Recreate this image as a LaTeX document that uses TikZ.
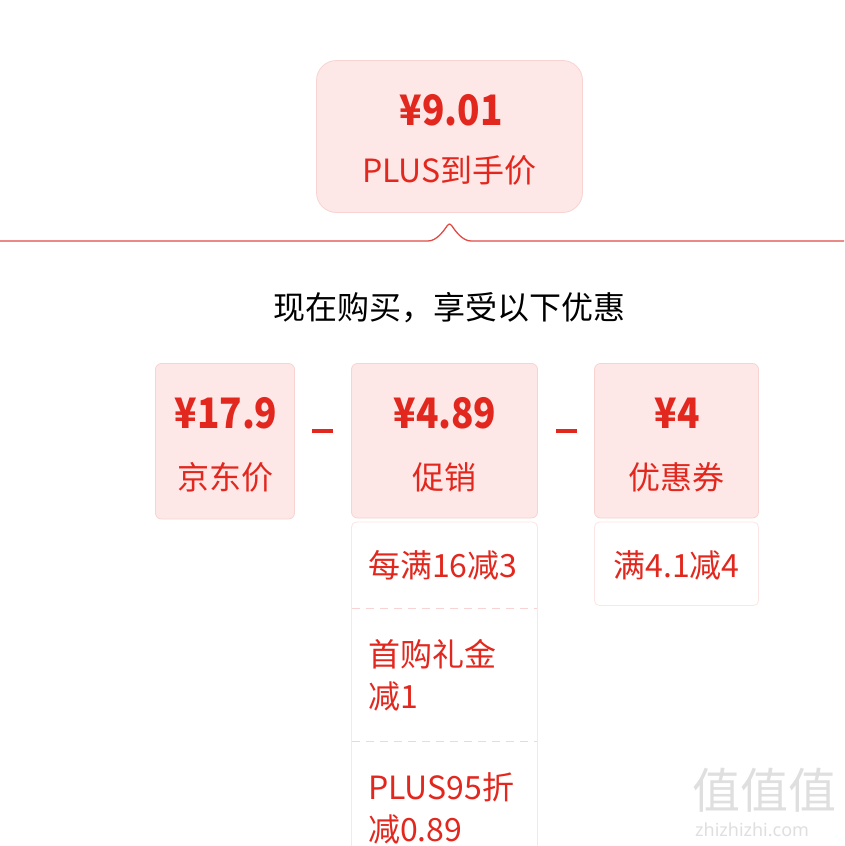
\documentclass[tikz,border=0pt]{standalone}
\usepackage{fontspec}
\setmainfont{Noto Sans CJK SC}
\newfontfamily\pricefont[FakeStretch=0.88]{Noto Sans CJK SC}
\newfontfamily\wmfont{Noto Sans}
\definecolor{jdred}{HTML}{E2281E}
\definecolor{pinkfill}{HTML}{FDE8E7}
\definecolor{pinkline}{HTML}{F7D3D1}
\definecolor{faintline}{HTML}{FBE6E5}
\definecolor{linered}{HTML}{E04B44}
\tikzset{
  price/.style={text=jdred, font=\pricefont\fontsize{42}{42}\selectfont\bfseries, inner sep=0pt, anchor=base},
  label/.style={text=jdred, font=\fontsize{32}{32}\selectfont, inner sep=0pt, anchor=base},
  pinkbox/.style={fill=pinkfill, draw=pinkline, line width=0.8pt, rounded corners=6pt},
  whitebox/.style={fill=white, draw=faintline, line width=0.8pt, rounded corners=5pt},
  sep/.style={draw=pinkline, line width=0.8pt, dash pattern=on 8pt off 6pt},
  minus/.style={fill=jdred, minimum width=21pt, minimum height=3.2pt, inner sep=0pt, draw=none},
  wm/.style={text=gray!25, inner sep=0pt, anchor=base}
}
\begin{document}
\begin{tikzpicture}[x=1pt,y=-1pt]
\useasboundingbox (0,0) rectangle (844,846);
\fill[white] (0,0) rectangle (844,846);
% top box
\draw[fill=pinkfill, draw=pinkline, line width=0.8pt, rounded corners=20pt] (316.5,60.5) rectangle (582.5,212.5);
\node[price] (top) at (451,125) {¥9.01};
\node[label] (topl) at (449.5,182) {PLUS到手价};
% divider with notch
\draw[linered, line width=1.3pt] (0,241) -- (428,241) .. controls (436,241) and (443,232) .. (447,226) .. controls (449,223.5) and (450,223.5) .. (452,226) .. controls (456,232) and (463,241) .. (471,241) -- (844,241);
\node[text=black, font=\fontsize{32}{32}\selectfont, inner sep=0pt, anchor=base] (head) at (449,319) {现在购买，享受以下优惠};
% box 1
\draw[pinkbox] (155.5,363.5) rectangle (294.5,519);
\node[price] (p1) at (226,428) {¥17.9};
\node[label] (l1) at (225,489) {京东价};
\node[minus] (m1) at (322.5,431) {};
% box 2
\draw[whitebox] (351.5,522) rectangle (537.5,870);
\draw[pinkbox] (351.5,363.5) rectangle (537.5,518);
\node[price] (p2) at (445,428) {¥4.89};
\node[label] (l2) at (444.5,489) {促销};
\node[label, anchor=base west] (r1) at (368,577) {每满16减3};
\draw[sep] (352,608) -- (537,608);
\node[label, anchor=base west] (r2a) at (368,666) {首购礼金};
\node[label, anchor=base west] (r2b) at (368,708) {减1};
\draw[sep] (352,741) -- (537,741);
\node[label, anchor=base west] (r3a) at (368,799) {PLUS95折};
\node[label, anchor=base west] (r3b) at (368,841) {减0.89};
\node[minus] (m2) at (566,431) {};
% box 3
\draw[whitebox] (594.5,522) rectangle (758.5,605.5);
\draw[pinkbox] (594.5,363.5) rectangle (758.5,518);
\node[price] (p3) at (677.5,428) {¥4};
\node[label] (l3) at (676.5,489) {优惠券};
\node[label] (c1) at (676.5,577) {满4.1减4};
% watermark
\node[wm, font=\fontsize{48}{48}\selectfont, anchor=base west] (wm1) at (692,808) {值值值};
\node[wm, font=\wmfont\fontsize{18}{18}\selectfont\bfseries, anchor=base west] (wm2) at (695,836) {zhizhizhi.com};
\end{tikzpicture}
\end{document}
